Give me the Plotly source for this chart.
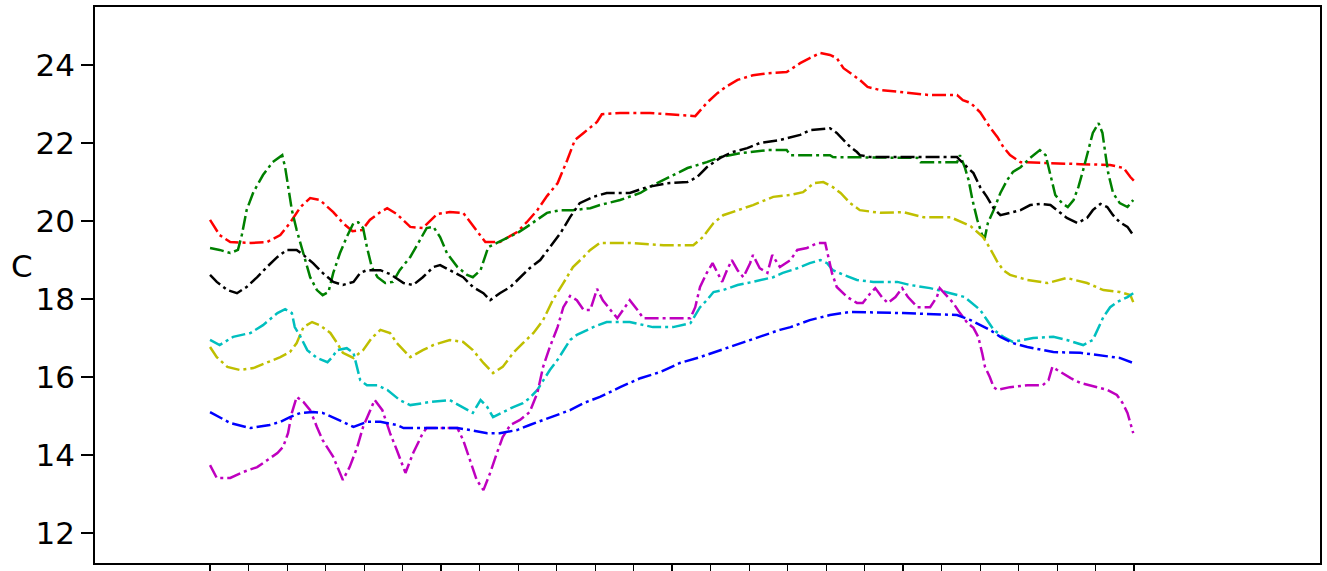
import plotly.graph_objects as go

# hours since start of record, temperatures in C
red_h = [0, 1.0, 2.1, 4.2, 5.9, 7.3, 8.3, 9.4, 10.4, 11.4, 12.8, 13.8, 14.8, 15.8, 16.6, 17.7, 18.4, 19.4,
         20.8, 22.1, 23.6, 24.9, 26.3, 27.5, 28.6, 30.1, 31.9, 32.9, 34.0, 35.0, 36.1, 37.1, 37.9, 38.8, 39.5,
         40.2, 40.7, 42.6, 45.7, 47.8, 50.4, 51.6, 52.7, 53.7, 54.8, 56.4, 57.9, 59.9, 61.3, 62.3, 63.4, 64.4,
         65.1, 65.8, 66.8, 67.5, 68.3, 69.6, 71.7, 74.8, 77.6, 78.2, 79.0, 80.0, 81.0, 81.8, 82.4, 83.1, 84.2,
         86.2, 90.4, 93.5, 94.9, 95.6, 96.1]
red_t = [20.03, 19.64, 19.46, 19.44, 19.46, 19.64, 19.95, 20.36, 20.59, 20.54, 20.23, 19.95, 19.74, 19.77,
         20.03, 20.23, 20.33, 20.18, 19.85, 19.82, 20.18, 20.23, 20.21, 19.82, 19.46, 19.46, 19.72, 19.97,
         20.28, 20.64, 20.97, 21.56, 22.08, 22.26, 22.41, 22.54, 22.74, 22.77, 22.77, 22.74, 22.69, 23.03,
         23.28, 23.46, 23.62, 23.74, 23.79, 23.82, 24.05, 24.18, 24.31, 24.26, 24.18, 23.92, 23.74, 23.62,
         23.44, 23.36, 23.31, 23.23, 23.23, 23.10, 23.03, 22.79, 22.41, 22.15, 21.90, 21.69, 21.51, 21.49,
         21.46, 21.44, 21.36, 21.13, 21.0]

green_h = [0, 1.0, 2.1, 2.9, 3.3, 3.8, 4.5, 5.5, 6.5, 7.5, 7.8, 8.1, 8.5, 9.0, 9.7, 10.4, 11.1, 11.7, 12.3,
           12.8, 13.5, 14.2, 14.9, 15.4, 15.9, 16.3, 16.8, 17.4, 18.2, 19.0, 19.7, 20.8, 21.8, 22.5, 23.2,
           23.9, 24.6, 25.7, 26.7, 27.3, 28.1, 28.6, 28.9, 29.8, 30.9, 31.9, 32.9, 34.0, 35.0, 36.4, 37.7,
           39.5, 40.5, 42.6, 44.7, 46.0, 47.8, 49.6, 51.6, 53.0, 55.1, 57.9, 59.9, 60.3, 64.4, 64.7, 73.5,
           73.8, 77.6, 77.9, 78.4, 78.8, 79.2, 79.7, 80.2, 80.5, 80.8, 81.4, 82.1, 82.8, 83.4, 84.2, 85.2,
           86.2, 86.8, 87.1, 87.5, 87.8, 88.5, 89.1, 89.7, 90.2, 90.7, 91.2, 91.7, 92.3, 92.7, 93.0, 93.3,
           93.8, 94.5, 95.3, 95.9]
green_t = [19.31, 19.26, 19.18, 19.26, 19.64, 20.28, 20.74, 21.18, 21.51, 21.69, 21.38, 20.87, 20.28, 19.77,
           19.18, 18.56, 18.23, 18.10, 18.18, 18.67, 19.18, 19.59, 19.95, 19.97, 19.82, 19.33, 18.82, 18.56,
           18.41, 18.44, 18.74, 19.08, 19.51, 19.82, 19.85, 19.59, 19.18, 18.82, 18.62, 18.56, 18.74, 19.08,
           19.33, 19.44, 19.56, 19.69, 19.85, 20.03, 20.21, 20.28, 20.28, 20.33, 20.41, 20.54, 20.72, 20.92,
           21.13, 21.36, 21.51, 21.64, 21.74, 21.82, 21.82, 21.69, 21.69, 21.64, 21.62, 21.51, 21.51, 21.69,
           21.38, 21.05, 20.54, 20.03, 19.64, 19.59, 19.95, 20.28, 20.72, 21.05, 21.26, 21.38, 21.62, 21.82,
           21.69, 21.38, 20.97, 20.67, 20.46, 20.36, 20.54, 20.87, 21.31, 21.82, 22.26, 22.51, 22.26, 21.74,
           21.23, 20.72, 20.46, 20.36, 20.54]

black_h = [0, 0.7, 1.8, 2.8, 3.8, 4.9, 5.9, 7.0, 8.0, 9.0, 9.7, 10.7, 11.7, 12.8, 13.8, 14.9, 15.6, 16.3,
           17.7, 18.7, 20.1, 21.1, 22.1, 23.2, 23.9, 24.9, 26.3, 27.3, 28.4, 29.1, 30.1, 31.2, 32.2, 33.2,
           34.3, 35.3, 36.4, 37.4, 38.4, 39.8, 41.2, 43.6, 44.4, 45.4, 47.5, 49.6, 50.6, 51.6, 53.0, 54.3,
           55.8, 57.1, 59.2, 61.3, 62.3, 64.4, 65.1, 65.8, 66.5, 67.2, 67.5, 68.6, 77.6, 77.9, 78.7, 79.3,
           80.0, 80.7, 81.4, 82.1, 83.1, 84.2, 85.2, 86.2, 87.3, 88.0, 89.0, 90.1, 91.1, 91.7, 92.5, 93.2,
           93.8, 94.5, 95.3, 95.9]
black_t = [18.62, 18.44, 18.23, 18.15, 18.31, 18.56, 18.82, 19.08, 19.26, 19.26, 19.13, 18.92, 18.67, 18.44,
           18.36, 18.44, 18.67, 18.74, 18.74, 18.64, 18.41, 18.36, 18.56, 18.82, 18.87, 18.74, 18.56, 18.31,
           18.15, 17.97, 18.15, 18.31, 18.56, 18.79, 19.0, 19.33, 19.69, 20.10, 20.46, 20.62, 20.72, 20.72,
           20.79, 20.87, 20.97, 21.0, 21.13, 21.38, 21.62, 21.77, 21.87, 22.0, 22.08, 22.21, 22.33, 22.38,
           22.26, 22.08, 21.90, 21.77, 21.69, 21.64, 21.64, 21.56, 21.38, 21.23, 20.87, 20.62, 20.33, 20.15,
           20.21, 20.28, 20.41, 20.44, 20.41, 20.28, 20.08, 19.95, 20.08, 20.28, 20.44, 20.36, 20.15, 19.97,
           19.85, 19.64]

yellow_h = [0, 0.7, 1.8, 3.1, 4.5, 5.9, 7.3, 8.3, 9.0, 9.7, 10.6, 11.4, 12.5, 13.2, 13.8, 14.9, 15.9, 16.8,
            17.7, 18.7, 19.4, 20.8, 22.1, 23.2, 24.9, 26.3, 27.3, 28.4, 29.4, 30.4, 31.5, 32.5, 33.6, 34.6,
            35.6, 36.7, 37.7, 38.8, 39.5, 40.5, 43.6, 47.1, 50.2, 51.2, 52.3, 53.3, 54.8, 56.4, 58.5, 60.3,
            61.6, 62.7, 63.7, 64.7, 65.5, 66.5, 67.5, 69.6, 72.0, 74.1, 76.9, 77.9, 79.0, 79.7, 80.3, 81.0,
            81.8, 82.4, 83.1, 84.9, 87.0, 89.0, 91.1, 92.8, 94.5, 95.6, 95.9]
yellow_t = [16.77, 16.51, 16.26, 16.18, 16.23, 16.38, 16.51, 16.64, 16.87, 17.28, 17.41, 17.33, 17.13, 16.87,
            16.62, 16.49, 16.69, 17.0, 17.21, 17.13, 16.87, 16.51, 16.69, 16.82, 16.95, 16.90, 16.69, 16.36,
            16.10, 16.26, 16.62, 16.87, 17.13, 17.46, 17.97, 18.41, 18.82, 19.08, 19.26, 19.44, 19.44, 19.38,
            19.38, 19.59, 19.95, 20.15, 20.28, 20.41, 20.62, 20.67, 20.74, 20.97, 21.0, 20.87, 20.72, 20.46,
            20.28, 20.21, 20.23, 20.10, 20.10, 20.0, 19.87, 19.72, 19.59, 19.31, 18.95, 18.74, 18.62, 18.49,
            18.41, 18.54, 18.41, 18.23, 18.18, 18.10, 17.92]

cyan_h = [0, 1.0, 2.4, 4.2, 5.5, 7.0, 7.8, 8.5, 8.8, 9.4, 10.1, 11.1, 12.2, 12.7, 13.2, 14.2, 14.9, 15.3,
          15.6, 16.3, 17.4, 18.4, 19.0, 19.7, 20.8, 22.9, 24.9, 26.3, 27.3, 28.1, 28.8, 29.4, 30.4, 31.5,
          32.5, 33.2, 34.0, 34.6, 35.3, 36.1, 36.7, 37.4, 38.1, 39.8, 41.2, 43.6, 46.0, 48.1, 49.9, 50.9,
          51.6, 52.3, 53.3, 54.8, 56.4, 58.5, 59.5, 61.0, 62.3, 63.4, 64.1, 64.7, 65.8, 67.2, 68.9, 71.4,
          72.7, 74.8, 76.9, 78.4, 80.0, 80.7, 81.4, 82.4, 83.4, 85.5, 87.6, 89.0, 90.7, 91.7, 92.3, 92.8,
          93.5, 94.2, 95.3, 95.9]
cyan_t = [16.95, 16.82, 17.03, 17.13, 17.33, 17.64, 17.74, 17.64, 17.28, 17.03, 16.69, 16.49, 16.38, 16.51,
          16.69, 16.74, 16.62, 16.26, 15.92, 15.79, 15.79, 15.67, 15.54, 15.41, 15.28, 15.36, 15.41, 15.23,
          15.08, 15.41, 15.23, 14.97, 15.10, 15.23, 15.33, 15.46, 15.67, 15.92, 16.18, 16.44, 16.69, 16.95,
          17.08, 17.28, 17.41, 17.41, 17.28, 17.28, 17.38, 17.79, 17.97, 18.18, 18.23, 18.36, 18.44, 18.56,
          18.67, 18.79, 18.92, 19.0, 18.92, 18.74, 18.62, 18.49, 18.44, 18.44, 18.36, 18.28, 18.15, 18.05,
          17.72, 17.46, 17.21, 17.03, 16.90, 17.0, 17.03, 16.95, 16.82, 16.95, 17.28, 17.54, 17.79, 17.92,
          18.05, 18.15]

magenta_h = [0, 0.7, 2.1, 3.4, 4.9, 5.9, 7.0, 7.6, 8.1, 8.5, 9.0, 9.7, 10.4, 11.1, 11.7, 12.8, 13.8, 14.5,
             15.3, 15.9, 16.6, 17.1, 17.9, 18.7, 19.4, 20.3, 21.1, 22.1, 22.5, 25.7, 26.3, 27.0, 27.7, 28.4,
             29.1, 29.8, 30.4, 31.2, 32.2, 33.2, 34.0, 34.6, 35.3, 36.1, 36.7, 37.4, 38.1, 38.8, 39.5, 40.2,
             40.8, 41.6, 42.3, 42.9, 43.6, 44.4, 45.0, 49.9, 50.4, 50.9, 51.6, 52.2, 52.7, 53.2, 53.7, 54.2,
             54.8, 55.4, 56.1, 56.4, 57.1, 57.9, 58.4, 59.2, 60.3, 61.0, 62.0, 63.1, 63.9, 64.2, 64.6, 65.1,
             66.2, 67.2, 67.8, 68.6, 69.1, 69.8, 70.4, 71.2, 71.9, 72.5, 73.5, 74.8, 75.5, 75.8, 76.6, 77.2,
             77.9, 78.7, 79.3, 79.8, 80.2, 80.5, 81.0, 81.4, 81.8, 83.1, 84.9, 86.5, 87.1, 87.5, 88.0, 88.5,
             89.4, 90.4, 91.7, 93.2, 94.2, 94.8, 95.3, 95.6, 95.9]
magenta_t = [13.74, 13.41, 13.41, 13.56, 13.69, 13.87, 14.05, 14.21, 14.56, 15.08, 15.49, 15.36, 15.15, 14.72,
             14.38, 13.95, 13.36, 13.69, 14.21, 14.72, 15.15, 15.41, 15.15, 14.56, 14.13, 13.54, 14.05, 14.56,
             14.69, 14.69, 14.38, 13.87, 13.36, 13.10, 13.54, 14.05, 14.46, 14.77, 14.90, 15.10, 15.59, 16.26,
             16.77, 17.28, 17.79, 18.08, 17.97, 17.72, 17.72, 18.26, 17.97, 17.72, 17.51, 17.72, 17.97, 17.72,
             17.51, 17.51, 17.79, 18.31, 18.67, 18.92, 18.67, 18.44, 18.74, 19.0, 18.74, 18.56, 18.92, 19.13,
             18.79, 18.67, 19.13, 18.82, 19.0, 19.26, 19.31, 19.44, 19.44, 19.08, 18.67, 18.31, 18.05, 17.90,
             17.90, 18.15, 18.28, 18.05, 17.90, 18.05, 18.28, 18.05, 17.79, 17.79, 18.05, 18.28, 18.05, 17.90,
             17.64, 17.38, 17.26, 17.03, 16.62, 16.26, 16.0, 15.74, 15.67, 15.74, 15.79, 15.79, 15.92, 16.26,
             16.18, 16.10, 15.97, 15.85, 15.77, 15.67, 15.54, 15.33, 15.08, 14.82, 14.56]

blue_h = [0, 1.0, 2.1, 4.2, 6.2, 7.3, 8.3, 9.4, 10.7, 11.7, 12.8, 13.8, 14.9, 16.3, 17.7, 19.4, 20.1, 25.7,
          27.0, 28.8, 30.1, 31.9, 33.2, 34.6, 36.1, 37.4, 38.8, 40.5, 42.6, 44.7, 46.8, 48.8, 50.9, 53.0,
          55.1, 57.1, 59.2, 60.3, 62.3, 64.4, 66.5, 72.0, 77.6, 79.0, 80.0, 81.0, 82.1, 83.4, 84.9, 87.6,
          90.4, 92.5, 94.5, 95.9]
blue_t = [15.10, 14.97, 14.82, 14.69, 14.77, 14.85, 14.97, 15.08, 15.10, 15.08, 14.97, 14.85, 14.72, 14.85,
          14.85, 14.77, 14.69, 14.69, 14.64, 14.56, 14.56, 14.64, 14.77, 14.90, 15.03, 15.15, 15.33, 15.49,
          15.74, 15.97, 16.13, 16.36, 16.51, 16.69, 16.87, 17.03, 17.21, 17.28, 17.46, 17.59, 17.67, 17.64,
          17.59, 17.46, 17.33, 17.21, 17.03, 16.87, 16.77, 16.64, 16.62, 16.56, 16.49, 16.36]

major_ticks = [0, 24, 48, 72, 96]
minor_ticks = [h for h in range(4, 96, 4) if h % 24]
y_ticks = [12, 14, 16, 18, 20, 22, 24]

series = [
    (red_h, red_t, "#ff0000"),
    (green_h, green_t, "#008000"),
    (black_h, black_t, "#000000"),
    (yellow_h, yellow_t, "#bfbf00"),
    (cyan_h, cyan_t, "#00bfbf"),
    (magenta_h, magenta_t, "#bf00bf"),
    (blue_h, blue_t, "#0000ff"),
]

fig = go.Figure()
for h, t, c in series:
    fig.add_trace(go.Scatter(x=h, y=t, mode="lines", showlegend=False,
                             line=dict(color=c, width=2.5, dash="14px,4px,3px,4px")))

fig.update_layout(
    width=1327, height=571,
    margin=dict(l=95, r=7, t=7, b=8),
    plot_bgcolor="white", paper_bgcolor="white",
    font=dict(family="DejaVu Sans", color="black", size=31),
    xaxis=dict(range=[-11.95, 115.3], showgrid=False, zeroline=False, automargin=False,
               showline=True, mirror=True, linecolor="black", linewidth=1.5,
               tickmode="array", tickvals=major_ticks, ticks="outside", ticklen=12,
               tickwidth=1.5, tickcolor="black", showticklabels=False,
               minor=dict(tickmode="array", tickvals=minor_ticks, ticks="outside",
                          ticklen=10, tickwidth=1.2, tickcolor="black")),
    yaxis=dict(range=[11.23, 25.49], showgrid=False, zeroline=False, automargin=False,
               showline=True, mirror=True, linecolor="black", linewidth=1.5,
               tickmode="array", tickvals=y_ticks, ticks="outside", ticklen=12,
               tickwidth=1.5, tickcolor="black", ticklabelstandoff=0),
    annotations=[dict(text="C", x=-0.0596, y=0.534, xref="paper", yref="paper",
                      showarrow=False, xanchor="center", yanchor="middle",
                      font=dict(size=31))],
)

# drop the default body margin so the figure fills the window exactly
fig.write_html("out.html", config={"displayModeBar": False},
               post_script="document.body.style.margin='0';document.body.style.overflow='hidden';")
